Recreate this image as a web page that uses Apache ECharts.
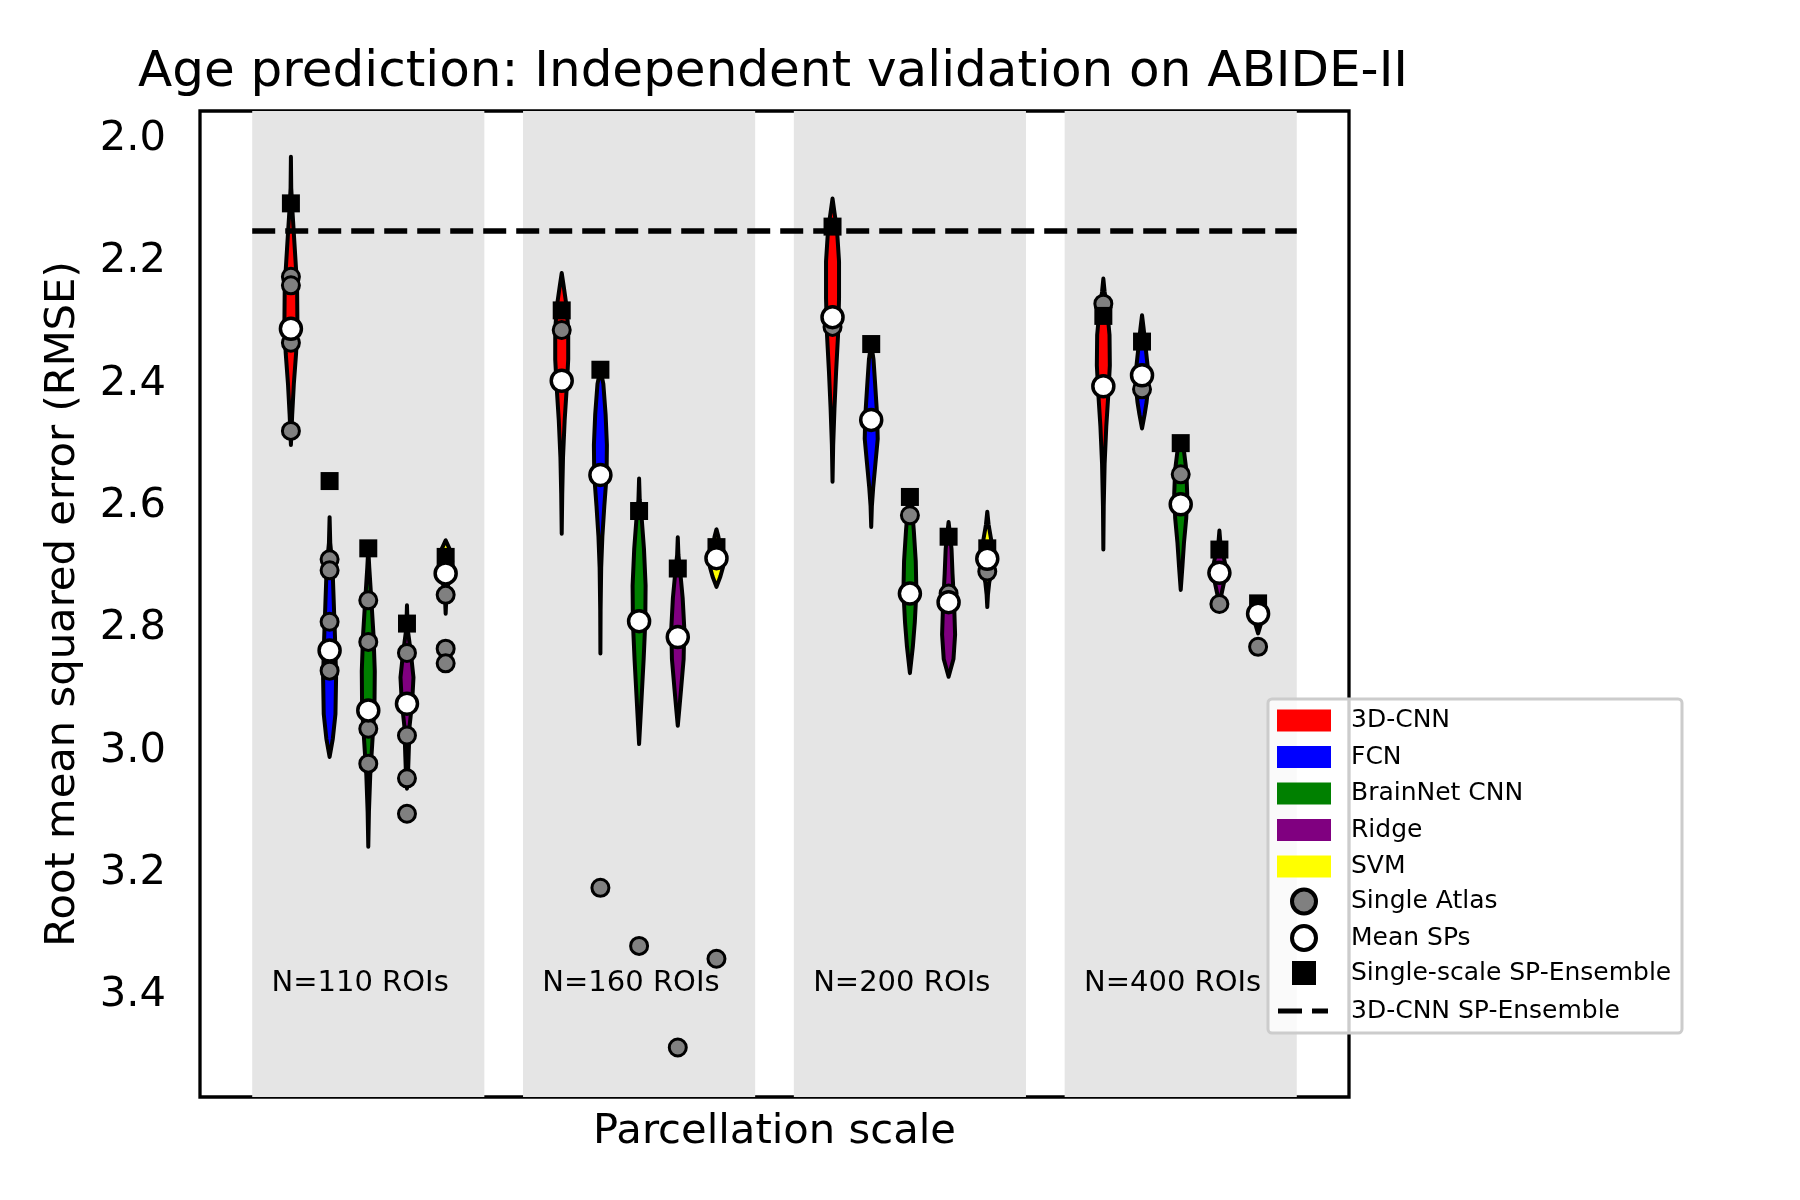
<!DOCTYPE html>
<html>
<head>
<meta charset="utf-8">
<script src="https://cdn.jsdelivr.net/npm/echarts@6/dist/echarts.min.js"></script>
<style>
html, body { margin: 0; padding: 0; background: #fff; }
#chart { width: 1800px; height: 1200px; }
</style>
</head>
<body>
<div id="chart"></div>
<script>
// parcellation scales and models
var groups = ['N=110 ROIs', 'N=160 ROIs', 'N=200 ROIs', 'N=400 ROIs'];
var models = ['3D-CNN', 'FCN', 'BrainNet CNN', 'Ridge', 'SVM'];
var yTicks = [2.0, 2.2, 2.4, 2.6, 2.8, 3.0, 3.2, 3.4];

// 3D-CNN SP-Ensemble (dashed line)
var ensemble3DCNN = 2.15;

// single-scale SP-Ensemble, per model, per scale
var spEnsemble = [
  [2.105, 2.280, 2.143, 2.289],
  [2.559, 2.377, 2.335, 2.331],
  [2.669, 2.608, 2.585, 2.497],
  [2.792, 2.702, 2.650, 2.671],
  [2.683, 2.667, 2.669, 2.759]
];

// mean over SPs, per model, per scale
var meanSPs = [
  [2.310, 2.395, 2.291, 2.404],
  [2.836, 2.549, 2.459, 2.386],
  [2.934, 2.788, 2.743, 2.597],
  [2.923, 2.814, 2.757, 2.709],
  [2.710, 2.685, 2.686, 2.776]
];

// single atlas results, per model, per scale
var singleAtlas = [
  [[2.225, 2.239, 2.333, 2.477], [2.312], [2.307], [2.269]],
  [[2.687, 2.705, 2.789, 2.869], [3.224], [], [2.409]],
  [[2.754, 2.822, 2.964, 3.021], [3.319], [2.615], [2.548]],
  [[2.840, 2.975, 3.045, 3.103], [3.485], [2.743], [2.760]],
  [[2.745, 2.833, 2.857], [3.340], [2.707], [2.830]]
];

// violin outlines: [rmse, relative density]
var violin3DCNN = [
  [[2.029,0],[2.08,0.05],[2.12,0.25],[2.18,0.6],[2.24,0.95],[2.30,1.0],[2.35,0.8],[2.40,0.45],[2.45,0.2],[2.50,0]],
  [[2.219,0],[2.24,0.3],[2.27,0.7],[2.31,1.0],[2.36,1.0],[2.41,0.75],[2.46,0.45],[2.52,0.2],[2.58,0.08],[2.645,0]],
  [[2.097,0],[2.12,0.3],[2.15,0.7],[2.20,1.0],[2.26,1.0],[2.32,0.85],[2.38,0.55],[2.44,0.3],[2.50,0.1],[2.56,0]],
  [[2.228,0],[2.25,0.2],[2.28,0.6],[2.32,0.95],[2.37,1.0],[2.42,0.75],[2.47,0.45],[2.53,0.2],[2.60,0.06],[2.671,0]]
];
var violinFCN = [
  [[2.618,0],[2.66,0.1],[2.70,0.45],[2.76,0.65],[2.82,0.85],[2.88,1.0],[2.94,0.9],[2.98,0.5],[3.01,0]],
  [[2.377,0],[2.40,0.45],[2.45,0.8],[2.50,1.0],[2.55,0.95],[2.60,0.6],[2.65,0.3],[2.70,0.12],[2.77,0.03],[2.841,0]],
  [[2.335,0],[2.36,0.35],[2.40,0.6],[2.45,0.9],[2.49,1.0],[2.53,0.65],[2.57,0.3],[2.60,0.1],[2.634,0]],
  [[2.288,0],[2.31,0.25],[2.34,0.55],[2.37,0.85],[2.40,1.0],[2.43,0.7],[2.45,0.4],[2.473,0]]
];
var violinBrainNet = [
  [[2.67,0],[2.70,0.15],[2.75,0.45],[2.81,0.8],[2.87,1.0],[2.93,0.95],[2.99,0.6],[3.04,0.3],[3.10,0.1],[3.157,0]],
  [[2.555,0],[2.59,0.1],[2.62,0.4],[2.67,0.75],[2.73,1.0],[2.79,0.95],[2.85,0.7],[2.91,0.4],[2.95,0.2],[2.989,0]],
  [[2.585,0],[2.60,0.3],[2.64,0.6],[2.69,0.9],[2.74,1.0],[2.79,0.75],[2.83,0.45],[2.873,0]],
  [[2.497,0],[2.51,0.5],[2.54,0.85],[2.58,1.0],[2.62,0.85],[2.66,0.5],[2.70,0.25],[2.737,0]]
];
var violinRidge = [
  [[2.762,0],[2.80,0.1],[2.84,0.6],[2.88,1.0],[2.92,0.8],[2.96,0.4],[3.01,0.25],[3.04,0.15],[3.062,0]],
  [[2.651,0],[2.68,0.1],[2.71,0.4],[2.75,0.75],[2.80,1.0],[2.85,0.9],[2.90,0.5],[2.93,0.25],[2.959,0]],
  [[2.626,0],[2.645,0.2],[2.67,0.45],[2.71,0.6],[2.76,0.85],[2.81,1.0],[2.85,0.75],[2.879,0]],
  [[2.64,0],[2.66,0.15],[2.68,0.6],[2.70,1.0],[2.72,0.8],[2.74,0.4],[2.76,0]]
];
var violinSVM = [
  [[2.656,0],[2.67,0.6],[2.69,1.0],[2.71,0.8],[2.73,0.35],[2.75,0.1],[2.776,0]],
  [[2.638,0],[2.65,0.3],[2.67,0.6],[2.69,0.9],[2.70,1.0],[2.715,0.6],[2.732,0]],
  [[2.609,0],[2.63,0.2],[2.655,0.6],[2.68,1.0],[2.705,0.7],[2.725,0.3],[2.745,0.1],[2.765,0]],
  [[2.751,0],[2.76,0.6],[2.775,1.0],[2.79,0.5],[2.808,0]]
];
var violins = [violin3DCNN, violinFCN, violinBrainNet, violinRidge, violinSVM];

// layout / style
var modelColors = ['#ff0000', '#0000ff', '#008000', '#800080', '#ffff00'];
var STEP = 1 / 7;       // spacing between violins inside a scale
var SPAN = 3 / 7;       // half width of the grey band
var HALF_W = 0.024;     // max violin half width (x units)
var LABEL_Y = 3.38;
var LABEL_DX = -0.03;
var FONT = 'DejaVu Sans';

function xPos(m, g) { return g + (m - 2) * STEP; }

var chart = echarts.init(document.getElementById('chart'));

var series = [];

// grey bands behind each scale
series.push({
  type: 'custom', z: 1, silent: true,
  data: groups.map(function (name, g) { return [g, 2.5]; }),
  renderItem: function (params, api) {
    var cs = params.coordSys;
    var g = api.value(0);
    var x0 = api.coord([g - SPAN, 2.5])[0];
    var x1 = api.coord([g + SPAN, 2.5])[0];
    return { type: 'rect', shape: { x: x0, y: cs.y, width: x1 - x0, height: cs.height },
             style: { fill: '#e5e5e5' } };
  }
});

// scale labels
series.push({
  type: 'custom', z: 1, silent: true,
  data: groups.map(function (name, g) { return [g + LABEL_DX, LABEL_Y]; }),
  renderItem: function (params, api) {
    var p = api.coord([api.value(0), api.value(1)]);
    return { type: 'text', x: p[0], y: p[1],
             style: { text: groups[params.dataIndex], fill: '#000', font: '29px "DejaVu Sans"',
                      textAlign: 'center', textVerticalAlign: 'middle' } };
  }
});

// violins
models.forEach(function (name, m) {
  var profiles = violins[m];
  series.push({
    name: name, type: 'custom', z: 2,
    itemStyle: { color: modelColors[m] },
    data: profiles.map(function (p, g) { return [xPos(m, g), meanSPs[m][g]]; }),
    renderItem: function (params, api) {
      var prof = profiles[params.dataIndex];
      var xc = api.value(0);
      var left = [], right = [];
      prof.forEach(function (d) {
        left.push(api.coord([xc - d[1] * HALF_W, d[0]]));
        right.push(api.coord([xc + d[1] * HALF_W, d[0]]));
      });
      return { type: 'polygon', shape: { points: left.concat(right.reverse()) },
               style: { fill: modelColors[m], stroke: '#000', lineWidth: 4, lineJoin: 'round' } };
    }
  });
});

// dashed 3D-CNN SP-Ensemble line
series.push({
  name: '3D-CNN SP-Ensemble', type: 'line', z: 3, silent: true,
  symbol: 'none', showSymbol: false,
  itemStyle: { color: '#000' },
  lineStyle: { color: '#000', width: 5.5, type: [23, 10] },
  data: [[-SPAN, ensemble3DCNN], [groups.length - 1 + SPAN, ensemble3DCNN]]
});

// single atlas points
var atlasPts = [];
singleAtlas.forEach(function (byGroup, m) {
  byGroup.forEach(function (vals, g) {
    vals.forEach(function (v) { atlasPts.push([xPos(m, g), v]); });
  });
});
series.push({
  name: 'Single Atlas', type: 'scatter', z: 4, symbol: 'circle', symbolSize: 17,
  itemStyle: { color: '#808080', borderColor: '#000', borderWidth: 3, opacity: 1 },
  data: atlasPts
});

// single-scale SP-Ensemble squares
var ensPts = [];
spEnsemble.forEach(function (vals, m) {
  vals.forEach(function (v, g) { ensPts.push([xPos(m, g), v]); });
});
series.push({
  name: 'Single-scale SP-Ensemble', type: 'scatter', z: 5, symbol: 'rect', symbolSize: 18,
  itemStyle: { color: '#000', opacity: 1 },
  data: ensPts
});

// mean SPs
var meanPts = [];
meanSPs.forEach(function (vals, m) {
  vals.forEach(function (v, g) { meanPts.push([xPos(m, g), v]); });
});
series.push({
  name: 'Mean SPs', type: 'scatter', z: 6, symbol: 'circle', symbolSize: 21,
  itemStyle: { color: '#ffffff', borderColor: '#000', borderWidth: 3.5, opacity: 1 },
  data: meanPts
});

var legendText = { fontFamily: FONT, fontSize: 25, color: '#000' };

var option = {
  animation: false,
  backgroundColor: '#fff',
  title: {
    text: 'Age prediction: Independent validation on ABIDE-II',
    left: 138, top: 48, padding: 0,
    textStyle: { fontFamily: FONT, fontSize: 50, fontWeight: 'normal', color: '#000' }
  },
  grid: {
    left: 200, right: 451, top: 111, bottom: 103,
    show: true, borderColor: '#000', borderWidth: 3.3, backgroundColor: 'transparent'
  },
  xAxis: {
    type: 'value', min: -0.6214, max: 3.6214,
    name: 'Parcellation scale', nameLocation: 'middle', nameGap: 14,
    nameTextStyle: { fontFamily: FONT, fontSize: 41.7, color: '#000', verticalAlign: 'top' },
    axisLine: { show: false }, axisTick: { show: false }, axisLabel: { show: false },
    splitLine: { show: false }
  },
  yAxis: {
    type: 'value', inverse: true, min: 1.954, max: 3.566,
    name: 'Root mean squared error (RMSE)', nameLocation: 'middle', nameGap: 116,
    nameTextStyle: { fontFamily: FONT, fontSize: 41.7, color: '#000' },
    axisLine: { show: false },
    axisTick: { show: true, length: 15, customValues: yTicks,
                lineStyle: { color: '#000', width: 3.3 } },
    axisLabel: { customValues: yTicks, margin: 34, fontFamily: FONT, fontSize: 41.7, color: '#000',
                 formatter: function (v) { return v.toFixed(1); } },
    splitLine: { show: false }
  },
  legend: [
    {
      orient: 'vertical', left: 1277, top: 708, padding: 0, z: 20,
      itemWidth: 54, itemHeight: 22, itemGap: 11.5, selectedMode: false,
      textStyle: Object.assign({ lineHeight: 22, padding: [0, 0, 0, 15] }, legendText),
      data: models.map(function (n) { return { name: n, icon: 'rect', itemStyle: { borderWidth: 0 } }; })
    },
    {
      orient: 'vertical', left: 1290, top: 887.5, padding: 0, z: 20,
      itemWidth: 54, itemHeight: 24, itemGap: 8.5, selectedMode: false,
      textStyle: Object.assign({ lineHeight: 24, padding: [0, 0, 0, 15] }, legendText),
      data: [
        { name: 'Single Atlas', icon: 'circle', itemStyle: { borderWidth: 4 } },
        { name: 'Mean SPs', icon: 'circle', itemStyle: { borderWidth: 4 } },
        { name: 'Single-scale SP-Ensemble', icon: 'path://M0,0H10V10H0Z', itemStyle: { borderWidth: 0 } }
      ]
    },
    {
      orient: 'vertical', left: 1278, top: 998.5, padding: 0, z: 20,
      itemWidth: 50, itemHeight: 5, selectedMode: false,
      textStyle: Object.assign({ lineHeight: 25, padding: [0, 0, 0, 18] }, legendText),
      data: [
        { name: '3D-CNN SP-Ensemble', icon: 'path://M0,0H24V5H0Z M34,0H50V5H34Z',
          itemStyle: { color: '#000', borderWidth: 0 } }
      ]
    }
  ],
  graphic: {
    elements: [{
      type: 'rect', z: 10, silent: true,
      shape: { x: 1268, y: 699, width: 414, height: 334, r: 4 },
      style: { fill: 'rgba(255,255,255,0.8)', stroke: '#cccccc', lineWidth: 3 }
    }]
  },
  series: series
};

chart.setOption(option);
</script>
</body>
</html>
